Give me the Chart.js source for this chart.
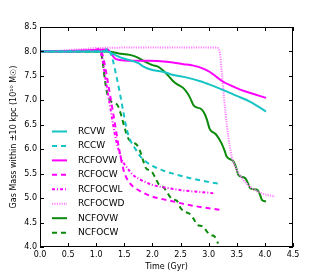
<!DOCTYPE html>
<html>
<head>
<meta charset="utf-8">
<script src="https://cdn.jsdelivr.net/npm/chart.js@4/dist/chart.umd.min.js"></script>
<style>
html,body{margin:0;padding:0;background:#fff;}
#wrap{width:325px;height:275px;position:relative;}
</style>
</head>
<body>
<div id="wrap"><canvas id="c" width="325" height="275"></canvas></div>
<script>
// ---- data (time in Gyr, gas mass in 1e10 Msun) ----
const xTicks = [0,0.5,1,1.5,2,2.5,3,3.5,4,4.5];
const yTicks = [4,4.5,5,5.5,6,6.5,7,7.5,8,8.5];

const seriesNames = ['RCVW','RCCW','RCFOVW','RCFOCW','RCFOCWL','RCFOCWD','NCFOVW','NCFOCW'];

const rcvwT = [0,1.0,1.2,1.25,1.35,1.5,1.66,1.75,1.84,2.0,2.2,2.37,2.6,2.85,3.02,3.26,3.5,3.74,4.02];
const rcvwV = [8.0,8.0,8.0,7.98,7.92,7.85,7.8,7.76,7.69,7.62,7.58,7.52,7.47,7.39,7.32,7.21,7.09,6.97,6.77];

const rccwT = [0,1.0,1.15,1.21,1.26,1.3,1.36,1.42,1.48,1.54,1.6,1.7,1.78,1.88,2.0,2.2,2.4,2.7,3.0,3.2];
const rccwV = [8.0,8.0,8.01,8.06,7.95,7.8,7.49,7.15,6.78,6.42,6.2,6.0,5.86,5.75,5.66,5.56,5.49,5.4,5.33,5.29];

const rcfovwT = [0,0.5,1.0,1.2,1.27,1.33,1.4,1.66,1.95,2.25,2.55,2.73,2.9,3.02,3.15,3.26,3.4,3.56,3.8,4.02];
const rcfovwV = [8.0,8.01,8.03,8.04,7.95,7.86,7.83,7.81,7.81,7.79,7.74,7.71,7.65,7.58,7.47,7.38,7.3,7.22,7.13,7.05];

const rcfocwT = [0,0.5,1.0,1.05,1.12,1.18,1.24,1.3,1.35,1.4,1.45,1.5,1.6,1.7,1.85,2.0,2.3,2.6,2.9,3.2];
const rcfocwV = [8.0,8.0,8.03,8.05,7.9,7.55,7.15,6.75,6.4,6.05,5.75,5.52,5.3,5.2,5.1,5.03,4.95,4.87,4.81,4.76];

const rcfocwlT = [0,0.5,1.0,1.05,1.1,1.15,1.2,1.25,1.3,1.35,1.4,1.45,1.55,1.65,1.8,2.0,2.3,2.6,2.9,3.1];
const rcfocwlV = [8.0,8.0,8.03,8.05,7.9,7.55,7.2,6.85,6.5,6.2,5.98,5.8,5.62,5.48,5.37,5.27,5.2,5.15,5.12,5.1];

const rcfocwdT = [0,0.3,0.5,0.8,1.0,2.0,3.14,3.2,3.23,3.26,3.3,3.35,3.41,3.5,3.62,3.74,3.92,4.18];
const rcfocwdV = [8.0,8.01,8.03,8.05,8.07,8.08,8.08,7.97,7.6,7.22,6.74,6.26,5.85,5.58,5.37,5.23,5.11,5.03];

const ncfovwT = [0,1.0,1.2,1.4,1.6,1.75,1.85,2.0,2.1,2.2,2.3,2.37,2.45,2.55,2.62,2.67,2.72,2.76,2.88,2.93,2.97,3.02,3.1,3.14,3.23,3.28,3.32,3.44,3.49,3.53,3.65,3.7,3.74,3.86,3.91,3.95,4.02];
const ncfovwV = [8.0,8.0,8.0,7.96,7.93,7.87,7.8,7.72,7.69,7.6,7.48,7.39,7.32,7.25,7.15,7.05,6.92,6.87,6.81,6.72,6.6,6.41,6.33,6.29,6.12,5.98,5.85,5.75,5.62,5.47,5.41,5.3,5.2,5.17,5.08,4.96,4.93];

const ncfocwT = [0,0.5,1.0,1.05,1.09,1.12,1.15,1.2,1.27,1.38,1.45,1.51,1.57,1.65,1.73,1.8,1.88,1.98,2.05,2.12,2.2,2.28,2.35,2.43,2.5,2.56,2.66,2.73,2.8,2.9,2.98,3.05,3.1,3.17];
const ncfocwV = [8.0,8.0,8.0,8.0,7.95,7.75,7.45,7.12,6.97,6.9,6.67,6.42,6.22,6.14,6.08,5.9,5.62,5.55,5.42,5.27,5.22,5.08,4.98,4.95,4.8,4.73,4.68,4.58,4.45,4.42,4.3,4.24,4.22,4.07];

const seriesT = [rcvwT, rccwT, rcfovwT, rcfocwT, rcfocwlT, rcfocwdT, ncfovwT, ncfocwT];
const seriesV = [rcvwV, rccwV, rcfovwV, rcfocwV, rcfocwlV, rcfocwdV, ncfovwV, ncfocwV];

// ---- styles ----
const CY = '#17c4c4', MG = '#ff00ff', PK = '#ff80ff', GR = '#0c8a0c';
const styles = [
  {c:CY, d:[]},
  {c:CY, d:[5,4]},
  {c:MG, d:[]},
  {c:MG, d:[5,4]},
  {c:MG, d:[3,2,1,2]},
  {c:PK, d:[1.2,1.2]},
  {c:GR, d:[]},
  {c:GR, d:[5,4]}
];

const datasets = seriesNames.map((n,i)=>({
  label:n,
  data: seriesT[i].map((t,k)=>({x:t,y:seriesV[i][k]})),
  borderColor: styles[i].c,
  borderDash: styles[i].d,
  borderWidth: 2,
  pointRadius: 0,
  fill:false,
  showLine:true,
  tension:0.3,
  cubicInterpolationMode:'monotone'
}));

const FONT = 'DejaVu Sans';

const boxTicks = {
  id:'boxTicks',
  afterDatasetsDraw(chart){
    const {ctx, chartArea:a, scales:{x,y}} = chart;
    ctx.save();
    ctx.strokeStyle='#000';
    ctx.lineWidth=1;
    ctx.strokeRect(Math.round(a.left)+0.5, Math.round(a.top)+0.5, Math.round(a.right-a.left)-1, Math.round(a.bottom-a.top)-1);
    const L=4;
    ctx.beginPath();
    xTicks.forEach(v=>{
      const px=Math.round(x.getPixelForValue(v))+0.5;
      ctx.moveTo(px,a.bottom); ctx.lineTo(px,a.bottom-L);
      ctx.moveTo(px,a.top); ctx.lineTo(px,a.top+L);
    });
    yTicks.forEach(v=>{
      const py=Math.round(y.getPixelForValue(v))+0.5;
      ctx.moveTo(a.left,py); ctx.lineTo(a.left+L,py);
      ctx.moveTo(a.right,py); ctx.lineTo(a.right-L,py);
    });
    ctx.stroke();
    // legend inside plot
    const x0=a.left+12, x1=a.left+27, tx=a.left+38;
    let yy=131.5;
    ctx.font='9px "'+FONT+'"';
    ctx.textBaseline='middle';
    ctx.textAlign='left';
    seriesNames.forEach((n,i)=>{
      ctx.beginPath();
      ctx.strokeStyle=styles[i].c;
      ctx.lineWidth=2;
      ctx.setLineDash(styles[i].d);
      ctx.moveTo(x0,yy); ctx.lineTo(x1,yy);
      ctx.stroke();
      ctx.setLineDash([]);
      ctx.fillStyle='#000';
      ctx.fillText(n,tx,yy);
      yy+=14.45;
    });
    ctx.restore();
  }
};

new Chart(document.getElementById('c'),{
  type:'scatter',
  data:{datasets},
  options:{
    responsive:false,
    animation:false,
    layout:{padding:{left:0,right:32,top:27,bottom:0}},
    plugins:{legend:{display:false},tooltip:{enabled:false}},
    scales:{
      x:{
        type:'linear',min:0,max:4.5,
        afterBuildTicks(s){s.ticks=xTicks.map(v=>({value:v}));},
        afterFit(s){s.height=28;},
        grid:{display:false,drawTicks:false},
        border:{display:false},
        ticks:{color:'#000',font:{family:FONT,size:8},padding:3,maxRotation:0,callback:v=>v.toFixed(1)},
        title:{display:true,text:'Time (Gyr)',color:'#000',font:{family:FONT,size:8},padding:{top:0,bottom:3}}
      },
      y:{
        type:'linear',min:4,max:8.5,
        afterBuildTicks(s){s.ticks=yTicks.map(v=>({value:v}));},
        afterFit(s){s.width=40;},
        grid:{display:false,drawTicks:false},
        border:{display:false},
        ticks:{color:'#000',font:{family:FONT,size:8},padding:3,callback:v=>v.toFixed(1)},
        title:{display:true,text:'Gas Mass within \u00b110 kpc (10\u00b9\u2070 M\u2609)',color:'#000',font:{family:FONT,size:8},padding:{top:9,bottom:0}}
      }
    }
  },
  plugins:[boxTicks]
});
</script>
</body>
</html>
